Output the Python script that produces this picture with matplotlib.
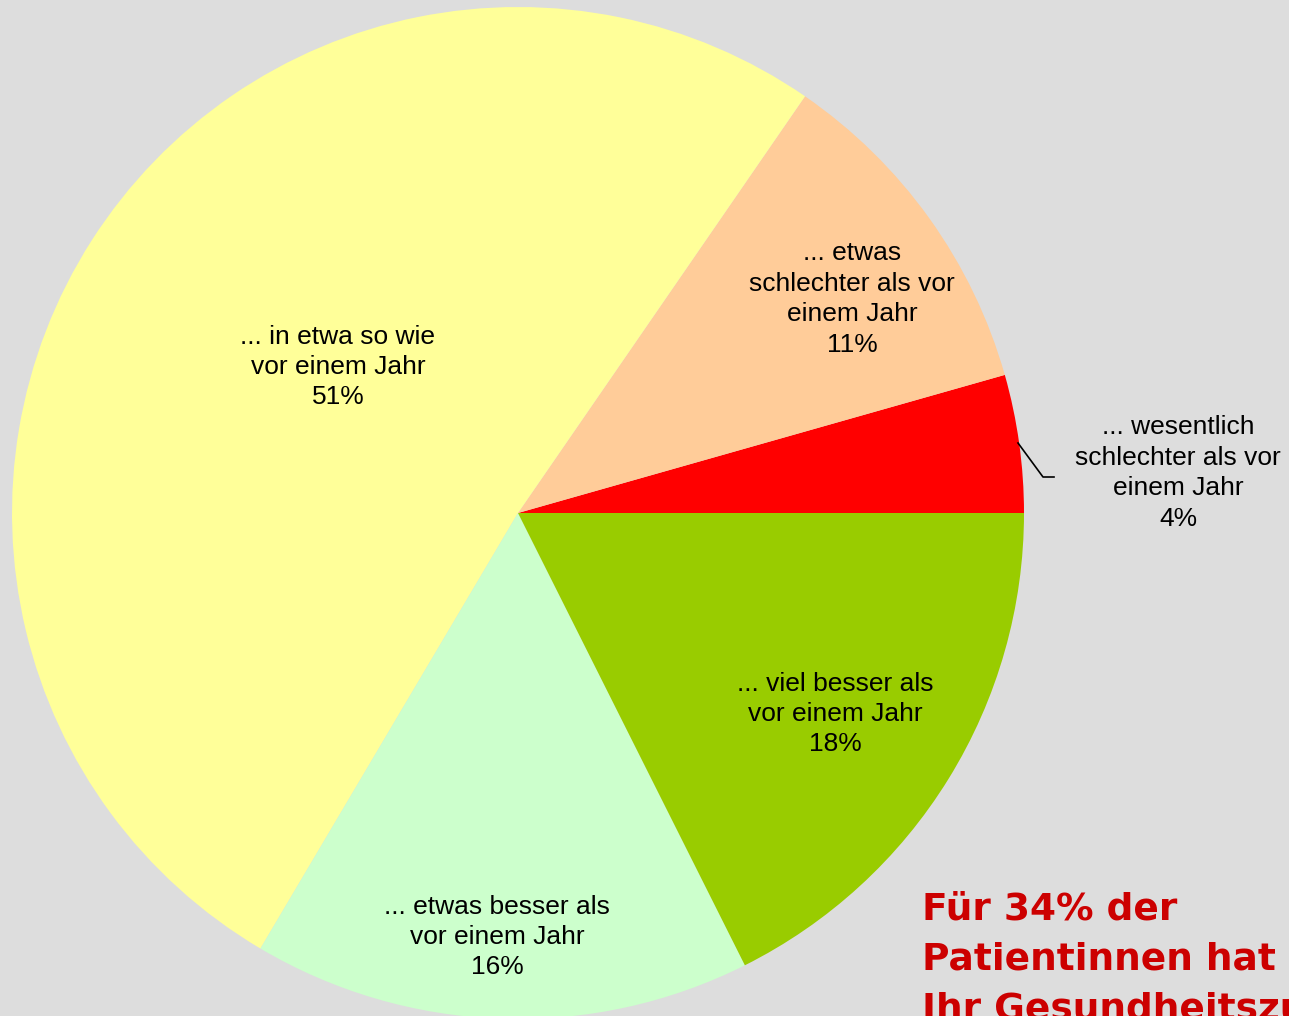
import numpy as np
import matplotlib.pyplot as plt

# Anteile (gegen den Uhrzeigersinn, Start bei 3 Uhr)
labels = ["... wesentlich\nschlechter als vor\neinem Jahr",
          "... etwas\nschlechter als vor\neinem Jahr",
          "... in etwa so wie\nvor einem Jahr",
          "... etwas besser als\nvor einem Jahr",
          "... viel besser als\nvor einem Jahr"]
values = [4.4, 11.0, 51.1, 15.9, 17.6]
shown_pct = [4, 11, 51, 16, 18]
colors = ["#FF0000", "#FFCC99", "#FFFF99", "#CCFFCC", "#99CC00"]

W, H = 1289, 1016
fig = plt.figure(figsize=(W / 100, H / 100), dpi=100, facecolor="#DDDDDD")
ax = fig.add_axes([0, 0, 1, 1])

cx, cy, R = 518, H - 513, 506
ax.pie(values, colors=colors, startangle=0, counterclock=True,
       center=(cx, cy), radius=R, frame=True,
       wedgeprops=dict(linewidth=0))
ax.set_xlim(0, W)
ax.set_ylim(0, H)
ax.axis("off")

# Beschriftungen (Pixelpositionen, y von oben)
label_pos = [(1178, 473), (852, 299), (338, 367), (497, 937), (835, 714)]
for lab, p, (x, y) in zip(labels, shown_pct, label_pos):
    ax.text(x, H - y, f"{lab}\n{p}%", ha="center", va="center",
            fontsize=19, family="Liberation Sans", linespacing=1.34)

# Führungslinie zum kleinen Segment
ax.plot([1018, 1043, 1054], [H - 443, H - 477, H - 477], color="black", lw=1.2)

ax.text(922, H - 892, "Für 34% der\nPatientinnen hat\nIhr Gesundheitszustand",
        ha="left", va="top", fontsize=27, fontweight="bold",
        family="DejaVu Sans", color="#CC0000", linespacing=1.5)

fig.savefig("out.png", dpi=100, facecolor=fig.get_facecolor())
